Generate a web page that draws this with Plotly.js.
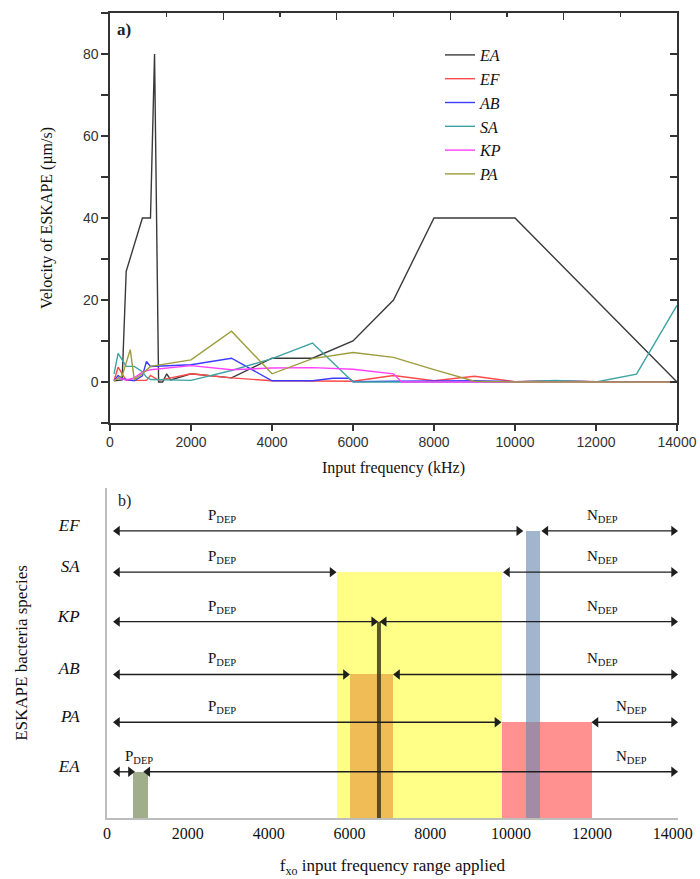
<!DOCTYPE html>
<html>
<head>
<meta charset="utf-8">
<script src="https://cdn.plot.ly/plotly-3.0.1.min.js"></script>
<style>html,body{margin:0;padding:0;background:#fff;}#chart{width:700px;height:879px;}</style>
</head>
<body>
<div id="chart"></div>
<script>
// ---------- Panel a) data: velocity (µm/s) vs input frequency (kHz) ----------
const freqEA = [100, 300, 400, 800, 1000, 1100, 1200, 1300, 1400, 1500, 2000, 3000, 4000, 5000, 6000, 7000, 8000, 10000, 14000];
const velEA  = [0.3, 0.5, 27, 40, 40, 80, 0, 0, 2, 0.5, 2, 1, 5.8, 5.8, 10, 20, 40, 40, 0];

const freqEF = [100, 200, 400, 900, 1000, 1200, 2000, 3000, 4000, 5000, 6000, 7000, 8000, 9000, 10000, 11000, 12000, 13000, 14000];
const velEF  = [0.3, 3.6, 0.4, 0.4, 1.6, 0.4, 2, 1, 0.3, 0.2, 0.2, 1.6, 0.3, 1.4, 0.1, 0.3, 0.1, 0.1, 0.1];

const freqAB = [100, 200, 300, 600, 800, 900, 1000, 2000, 3000, 4000, 5000, 5500, 5900, 6000, 7000, 8000, 9000, 10000, 11000, 12000, 13000, 14000];
const velAB  = [0.3, 1.6, 0.8, 0.3, 1.5, 5, 3.8, 4.2, 5.8, 0.3, 0.3, 0.9, 0.9, 0.1, 0.2, 0.2, 0.3, 0.1, 0.2, 0.1, 0.1, 0.1];

const freqSA = [100, 200, 400, 600, 800, 900, 1000, 2000, 3000, 4000, 5000, 6000, 7000, 8000, 9000, 10000, 11000, 12000, 13000, 14000];
const velSA  = [2, 7, 3.8, 3.8, 2.5, 1.2, 0.6, 0.4, 2.8, 5.7, 9.5, 0, 0, 0, 0, 0, 0.4, 0, 1.9, 18.7];

const freqKP = [100, 200, 400, 600, 800, 1000, 2000, 3000, 4000, 5000, 6000, 7000, 7200, 8000, 9000, 10000, 11000, 12000, 13000, 14000];
const velKP  = [0.3, 1, 0.5, 1, 2.4, 3, 4, 3, 3.4, 3.5, 3.1, 2, 0, 0, 0, 0, 0, 0, 0, 0];

const freqPA = [100, 300, 500, 600, 800, 1000, 2000, 3000, 4000, 5000, 6000, 7000, 8000, 9000, 10000, 11000, 12000, 13000, 14000];
const velPA  = [0.3, 1.5, 7.9, 0.6, 2, 3.8, 5.4, 12.4, 2, 5.7, 7.2, 6, 3, 0.2, 0, 0, 0, 0, 0];

const seriesNames = ['EA', 'EF', 'AB', 'SA', 'KP', 'PA'];

// ---------- Panel b) data: DEP frequency ranges (kHz) ----------
const species     = ['EF', 'SA', 'KP', 'AB', 'PA', 'EA'];
const speciesRow  = [8.7, 7.45, 5.95, 4.35, 2.9, 1.4];
const pdepStart   = [260, 260, 260, 260, 260, 260];
const pdepEnd     = [10190, 5570, 6600, 5900, 9650, 580];
const ndepStart   = [10860, 9910, 6860, 7190, 12100, 1010];
const ndepEnd     = [14020, 14020, 14020, 14020, 14020, 14020];
const pdepLabelX  = [2850, 2850, 2850, 2850, 2850, 800];
const ndepLabelX  = [12270, 12270, 12270, 12270, 12980, 12980];
// crossover frequency bands (kHz)
const bandSpecies = ['SA', 'AB', 'PA', 'EF', 'EA'];
const bandStart   = [5700, 6010, 9780, 10380, 650];
const bandEnd     = [9780, 7070, 11990, 10710, 1020];
const kpCrossover = 6730;

const xTicksA = [0, 2000, 4000, 6000, 8000, 10000, 12000, 14000];
const xTicksB = [0, 2000, 4000, 6000, 8000, 10000, 12000, 14000];

// ---------- styling ----------
const lineColors = {EA:'#3a3a3a', EF:'#ff4a4a', AB:'#3c3cff', SA:'#3fa3a3', KP:'#ff40ff', PA:'#9c9c3c'};
const bandColors = {SA:'rgb(255,255,135)', AB:'rgb(240,188,85)', PA:'rgb(255,145,145)', EF:'rgba(105,135,178,0.62)', EA:'rgb(160,174,140)'};
const serif = 'Liberation Serif, Times New Roman, serif';
const sans = 'Liberation Sans, Arial, sans-serif';

const W = 700, H = 879;
const px = v => v / W, py = v => 1 - v / H;

const seriesData = {EA:[freqEA, velEA], EF:[freqEF, velEF], AB:[freqAB, velAB], SA:[freqSA, velSA], KP:[freqKP, velKP], PA:[freqPA, velPA]};

const traces = [];
seriesNames.forEach(n => {
  traces.push({
    type:'scatter', mode:'lines', name:n,
    x: seriesData[n][0], y: seriesData[n][1],
    xaxis:'x', yaxis:'y',
    line:{color:lineColors[n], width:1.4},
    hoverinfo:'skip'
  });
});
// dummy trace for mirror axes
traces.push({type:'scatter', x:[null], y:[null], xaxis:'x3', yaxis:'y3', showlegend:false, hoverinfo:'skip'});

// bands as bars in panel b
bandSpecies.forEach((s, i) => {
  const top = speciesRow[species.indexOf(s)];
  traces.push({
    type:'bar', xaxis:'x2', yaxis:'y2', showlegend:false, hoverinfo:'skip',
    x:[(bandStart[i] + bandEnd[i]) / 2], y:[top], base:[0], width:[bandEnd[i] - bandStart[i]],
    marker:{color:bandColors[s], line:{width:0}}
  });
});
traces.push({
  type:'scatter', mode:'lines', xaxis:'x2', yaxis:'y2', showlegend:false, hoverinfo:'skip',
  x:[kpCrossover, kpCrossover], y:[0, speciesRow[species.indexOf('KP')]],
  line:{color:'rgba(60,58,30,0.85)', width:4}
});

// double-headed arrows for pDEP and nDEP ranges
function arrowTrace(x0, x1, y) {
  return {
    type:'scatter', mode:'lines+markers', xaxis:'x2', yaxis:'y2', showlegend:false, hoverinfo:'skip',
    cliponaxis:false,
    x:[x0, x1], y:[y, y],
    line:{color:'#1e1e1e', width:1.4},
    marker:{symbol:['triangle-left', 'triangle-right'], size:9, color:'#1e1e1e', line:{width:0}}
  };
}
species.forEach((s, i) => {
  traces.push(arrowTrace(pdepStart[i], pdepEnd[i], speciesRow[i]));
  traces.push(arrowTrace(ndepStart[i], ndepEnd[i], speciesRow[i]));
});

const annotations = [
  {text:'<b>a)</b>', xref:'paper', yref:'paper', x:px(115), y:py(30), xanchor:'left', yanchor:'middle', showarrow:false, font:{family:serif, size:17, color:'#222'}},
  {text:'b)', xref:'paper', yref:'paper', x:px(116), y:py(501), xanchor:'left', yanchor:'middle', showarrow:false, font:{family:serif, size:16, color:'#222'}}
];
species.forEach((s, i) => {
  annotations.push({text:'P<sub>DEP</sub>', xref:'x2', yref:'y2', x:pdepLabelX[i], y:speciesRow[i], yshift:15, showarrow:false, font:{family:serif, size:15, color:'#111'}});
  annotations.push({text:'N<sub>DEP</sub>', xref:'x2', yref:'y2', x:ndepLabelX[i], y:speciesRow[i], yshift:15, showarrow:false, font:{family:serif, size:15, color:'#111'}});
});

const layout = {
  width:W, height:H, margin:{l:0, r:0, t:0, b:0},
  paper_bgcolor:'#fff', plot_bgcolor:'rgba(0,0,0,0)',
  showlegend:true, barmode:'overlay', bargap:0,
  legend:{x:px(440), y:py(38), xanchor:'left', yanchor:'top', bgcolor:'rgba(0,0,0,0)', font:{family:serif, size:16, style:'italic', color:'#111'}, tracegroupgap:0},
  xaxis:{domain:[px(110), px(677)], anchor:'y', range:[0, 14000], tickvals:xTicksA, ticktext:xTicksA.map(String),
    ticks:'outside', ticklen:6, tickwidth:1.4, tickcolor:'#333', showline:true, linecolor:'#333', linewidth:1.6,
    showgrid:false, zeroline:false, tickfont:{family:sans, size:14, color:'#333'},
    title:{text:'Input frequency (kHz)', font:{family:serif, size:16, color:'#111'}, standoff:12}},
  yaxis:{domain:[py(423), py(13)], anchor:'x', range:[-10, 90], tickvals:[0, 20, 40, 60, 80],
    ticks:'outside', ticklen:7, tickwidth:1.4, tickcolor:'#333', showline:true, linecolor:'#333', linewidth:1.6,
    minor:{dtick:10, tick0:0, ticks:'outside', ticklen:7, tickwidth:1.4, tickcolor:'#333', showgrid:false},
    showgrid:false, zeroline:false, tickfont:{family:sans, size:14, color:'#333'},
    title:{text:'Velocity of ESKAPE (µm/s)', font:{family:serif, size:16, color:'#111'}, standoff:26}},
  xaxis3:{overlaying:'x', side:'top', anchor:'y', range:[0, 14000], tick0:0, dtick:2800, ticks:'inside', ticklen:7, tickwidth:1.4, tickcolor:'#333',
    minor:{dtick:1400, tick0:0, ticks:'inside', ticklen:4, tickwidth:1.4, tickcolor:'#333', showgrid:false},
    showticklabels:false, showline:true, linecolor:'#333', linewidth:1.6, showgrid:false, zeroline:false},
  yaxis3:{overlaying:'y', side:'right', anchor:'x', range:[-10, 90], tick0:0, dtick:10, ticks:'inside', ticklen:7, tickwidth:1.4, tickcolor:'#333',
    showticklabels:false, showline:true, linecolor:'#333', linewidth:1.6, showgrid:false, zeroline:false},
  xaxis2:{domain:[px(107), px(678)], anchor:'y2', range:[0, 14130], tickvals:xTicksB, ticktext:xTicksB.map(String),
    ticks:'', showline:true, linecolor:'#bdbdbd', linewidth:2, showgrid:false, zeroline:false,
    tickfont:{family:serif, size:16, color:'#111'},
    title:{text:'f<sub>xo</sub> input frequency range applied', font:{family:serif, size:17, color:'#111'}, standoff:18}},
  yaxis2:{domain:[py(818), py(488)], anchor:'x2', range:[0, 10], tickvals:speciesRow, ticktext:species,
    ticks:'', showline:true, linecolor:'#bdbdbd', linewidth:2, showgrid:false, zeroline:false,
    ticklabelstandoff:22, ticklabelshift:-6,
    tickfont:{family:serif, size:17, style:'italic', color:'#111'},
    title:{text:'ESKAPE bacteria species', font:{family:serif, size:17, color:'#111'}, standoff:25}},
  annotations:annotations
};

Plotly.newPlot('chart', traces, layout, {displayModeBar:false, staticPlot:true});
</script>
</body>
</html>
